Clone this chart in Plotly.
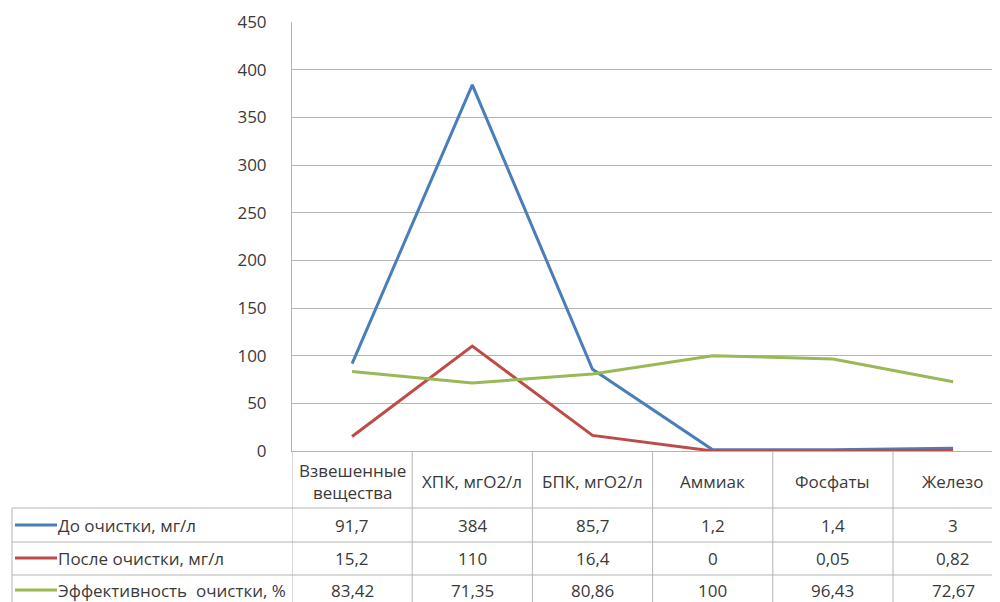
import plotly.graph_objects as go

categories = ["Взвешенные<br>вещества", "ХПК, мгО2/л", "БПК, мгО2/л", "Аммиак", "Фосфаты", "Железо"]
series_names = ["До очистки, мг/л", "После очистки, мг/л", "Эффективность  очистки, %"]
before = [91.7, 384, 85.7, 1.2, 1.4, 3]
after = [15.2, 110, 16.4, 0, 0.05, 0.82]
efficiency = [83.42, 71.35, 80.86, 100, 96.43, 72.67]
before_txt = ["91,7", "384", "85,7", "1,2", "1,4", "3"]
after_txt = ["15,2", "110", "16,4", "0", "0,05", "0,82"]
eff_txt = ["83,42", "71,35", "80,86", "100", "96,43", "72,67"]
colors = ["#4a7ebb", "#be4b48", "#98b954"]

# page body has an 8px margin: work in window pixels and shift
OFF = 8
W, H = 1000 - OFF, 602 - OFF
AX_L, AX_T, AX_B = 292, 22, 451          # window pixels of the plot area
L, T = AX_L - OFF, AX_T - OFF
B = H - (AX_B - OFF)
PW = W - L
PH = H - T - B
FONT = "Open Sans"
FS = 17
TXT = "#3a3a3a"
GRID = "#b4b4b4"

def xp(px):
    return (px - AX_L) / PW

def yp(py):
    return (AX_B - py) / PH

xs = list(range(len(categories)))
col_w = 120.2
x_range = [-0.5, -0.5 + PW / col_w]

fig = go.Figure()
for vals, name, c in zip([before, after, efficiency], series_names, colors):
    fig.add_trace(go.Scatter(x=xs, y=vals, mode="lines", name=name,
                             line=dict(color=c, width=3), showlegend=False))

shapes = []
for i in range(len(categories) + 1):
    b = i - 0.5
    shapes.append(dict(type="line", xref="x", yref="paper", x0=b, x1=b,
                       y0=yp(451), y1=yp(610), line=dict(color=GRID, width=1)))
for py in [508, 542, 575]:
    shapes.append(dict(type="line", xref="paper", yref="paper", x0=xp(12), x1=xp(1000),
                       y0=yp(py), y1=yp(py), line=dict(color=GRID, width=1)))
shapes.append(dict(type="line", xref="paper", yref="paper", x0=xp(12), x1=xp(12),
                   y0=yp(508), y1=yp(610), line=dict(color=GRID, width=1)))

annotations = []
for i, cat in enumerate(categories):
    annotations.append(dict(xref="x", yref="paper", x=i, y=yp(481), text=cat,
                            showarrow=False, xanchor="center", yanchor="middle",
                            font=dict(family=FONT, size=FS, color=TXT)))
row_y = [525, 558, 590]
for r, (txts, name, c) in enumerate(zip([before_txt, after_txt, eff_txt], series_names, colors)):
    for i, t in enumerate(txts):
        annotations.append(dict(xref="x", yref="paper", x=i, y=yp(row_y[r]), text=t,
                                showarrow=False, xanchor="center", yanchor="middle",
                                font=dict(family=FONT, size=FS, color=TXT)))
    shapes.append(dict(type="line", xref="paper", yref="paper", x0=xp(15), x1=xp(57),
                       y0=yp(row_y[r]), y1=yp(row_y[r]), line=dict(color=c, width=3)))
    annotations.append(dict(xref="paper", yref="paper", x=xp(56), y=yp(row_y[r]), text=name,
                            showarrow=False, xanchor="left", yanchor="middle",
                            font=dict(family=FONT, size=FS, color=TXT)))

fig.update_layout(
    width=W, height=H,
    margin=dict(l=L, r=0, t=T, b=B),
    paper_bgcolor="white", plot_bgcolor="white",
    shapes=shapes, annotations=annotations,
    xaxis=dict(range=x_range, showticklabels=False, showgrid=False, zeroline=False,
               showline=True, linecolor=GRID, linewidth=1, fixedrange=True),
    yaxis=dict(range=[0, 450], dtick=50, showgrid=True, gridcolor=GRID, gridwidth=1,
               zeroline=False, showline=True, linecolor=GRID, linewidth=1,
               ticks="", ticklabelstandoff=21,
               tickfont=dict(family=FONT, size=FS, color=TXT)),
)

fig.write_html("out.html")
